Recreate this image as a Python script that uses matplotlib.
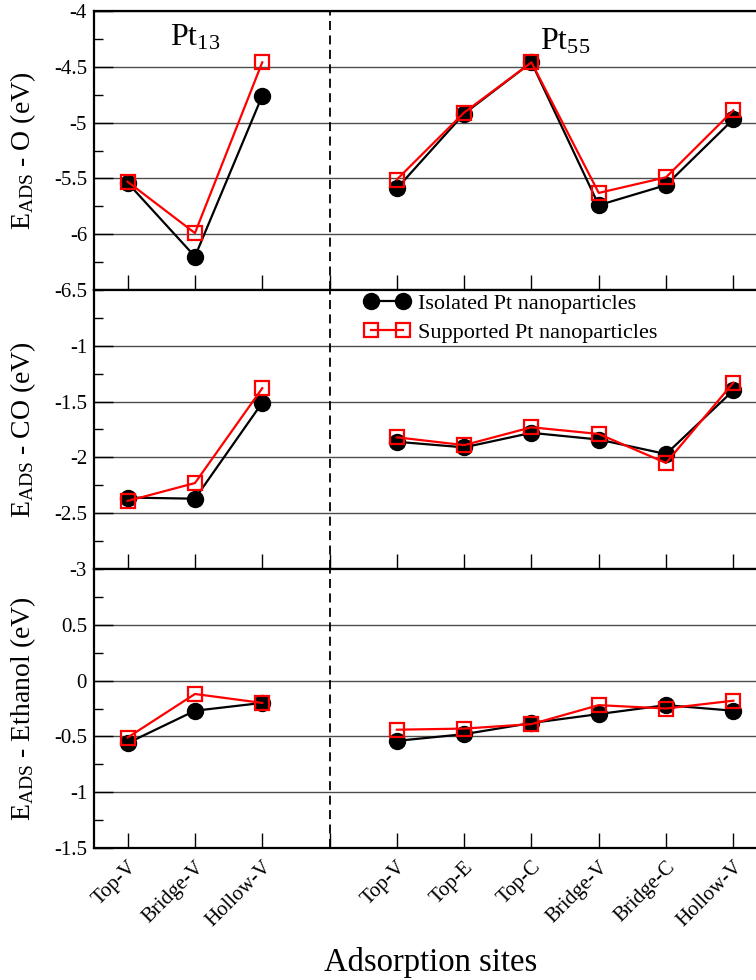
# adsorption energies of O, CO and ethanol on Pt13 / Pt55 sites

import numpy as np
import matplotlib
matplotlib.use('Agg')
from matplotlib import pyplot as plt
from matplotlib.ticker import MultipleLocator, FixedLocator

plt.rcParams['font.family'] = ['Liberation Serif', 'DejaVu Serif']
plt.rcParams['mathtext.fontset'] = 'custom'
plt.rcParams['mathtext.rm'] = 'Liberation Serif'
plt.rcParams['mathtext.it'] = 'Liberation Serif:italic'

# sites
sites13 = ['Top-V', 'Bridge-V', 'Hollow-V']
sites55 = ['Top-V', 'Top-E', 'Top-C', 'Bridge-V', 'Bridge-C', 'Hollow-V']

# O adsorption (eV)
o_iso13 = [-5.54, -6.20, -4.76]
o_sup13 = [-5.53, -5.99, -4.46]
o_iso55 = [-5.59, -4.92, -4.46, -5.74, -5.56, -4.97]
o_sup55 = [-5.51, -4.91, -4.46, -5.63, -5.49, -4.89]

# CO adsorption (eV)
co_iso13 = [-2.36, -2.37, -1.51]
co_sup13 = [-2.39, -2.23, -1.38]
co_iso55 = [-1.86, -1.91, -1.78, -1.84, -1.97, -1.40]
co_sup55 = [-1.82, -1.89, -1.73, -1.79, -2.05, -1.33]

# ethanol adsorption (eV)
et_iso13 = [-0.56, -0.27, -0.20]
et_sup13 = [-0.51, -0.12, -0.20]
et_iso55 = [-0.54, -0.48, -0.38, -0.30, -0.22, -0.27]
et_sup55 = [-0.44, -0.43, -0.39, -0.22, -0.25, -0.18]

x13 = np.arange(1, len(sites13) + 1)
x55 = np.arange(len(sites13) + 2, len(sites13) + 2 + len(sites55))

panels = [
    (o_iso13, o_sup13, o_iso55, o_sup55, r'E$_{\mathrm{ADS}}$ - O (eV)', (-6.5, -4.0), [-6.5, -6, -5.5, -5, -4.5, -4]),
    (co_iso13, co_sup13, co_iso55, co_sup55, r'E$_{\mathrm{ADS}}$ - CO (eV)', (-3.0, -0.5), [-3, -2.5, -2, -1.5, -1]),
    (et_iso13, et_sup13, et_iso55, et_sup55, r'E$_{\mathrm{ADS}}$ - Ethanol (eV)', (-1.5, 1.0), [-1.5, -1, -0.5, 0, 0.5]),
]

fig = plt.figure(figsize=(7.56, 9.8), dpi=100)
W, H = 756.0, 980.0
left, right = 94 / W, 767 / W
top = 11 / H
ph = 279 / H

iso_kw = dict(color='black', lw=1.6, marker='o', ms=11.5, mfc='black', mec='black')
sup_kw = dict(color='red', lw=1.6, marker='s', ms=9.5, mfc='none', mec='red', mew=1.6)

axes = []
for i, (iso13, sup13, iso55, sup55, ylab, ylim, yt) in enumerate(panels):
    ax = fig.add_axes([left, 1 - top - ph * (i + 1), right - left, ph])
    axes.append(ax)

    ax.plot(x13, iso13, label='Isolated Pt nanoparticles', zorder=3, **iso_kw)
    ax.plot(x55, iso55, zorder=3, **iso_kw)
    ax.plot(x13, sup13, label='Supported Pt nanoparticles', zorder=4, **sup_kw)
    ax.plot(x55, sup55, zorder=4, **sup_kw)

    ax.axvline(4, color='black', lw=1.3, ls=(0, (5, 3)), zorder=2)

    ax.set_xlim(0.5, 10.5)
    ax.set_ylim(*ylim)
    ax.yaxis.set_major_locator(FixedLocator(yt))
    ax.yaxis.set_minor_locator(MultipleLocator(0.25))
    ax.set_yticklabels(['%g' % v for v in yt])
    ax.grid(axis='y', which='major', color='0.3', lw=1.0)
    ax.set_axisbelow(True)

    ax.xaxis.set_major_locator(FixedLocator(np.arange(1, 11)))
    ax.tick_params(axis='x', which='major', direction='in', length=11, width=1, top=False)
    ax.tick_params(axis='y', which='major', direction='in', length=14, width=1, labelsize=15, pad=5)
    ax.tick_params(axis='y', which='minor', direction='in', length=6.5, width=1)
    for s in ['top', 'bottom', 'left']:
        ax.spines[s].set_linewidth(1.6)
    ax.spines['right'].set_visible(False)

    ax.set_ylabel(ylab, fontsize=20)
    ax.yaxis.set_label_coords(-0.083, 0.5)

    if i < 2:
        ax.set_xticklabels([])

# bottom tick labels
labels = sites13 + [''] + sites55
axes[2].set_xticklabels(labels, rotation=45, ha='right', va='top', rotation_mode='anchor', fontsize=15)
axes[2].tick_params(axis='x', pad=7)
axes[2].set_xlabel('Adsorption sites', fontsize=23.5, va='top')
axes[2].xaxis.set_label_coords(0.5, -0.355)

# cluster labels
axes[0].text(2.0, -4.24, r'Pt$_{13}$', fontsize=23, ha='center', va='center')
axes[0].text(7.5, -4.28, r'Pt$_{55}$', fontsize=23, ha='center', va='center')

# legend in the middle panel
axes[1].legend(loc='upper left', bbox_to_anchor=(0.385, 1.029), frameon=False,
               numpoints=2, handlelength=2.05, handletextpad=0.36, labelspacing=0.4,
               fontsize=16, borderaxespad=0.1)

fig.savefig('out.png', dpi=100)
